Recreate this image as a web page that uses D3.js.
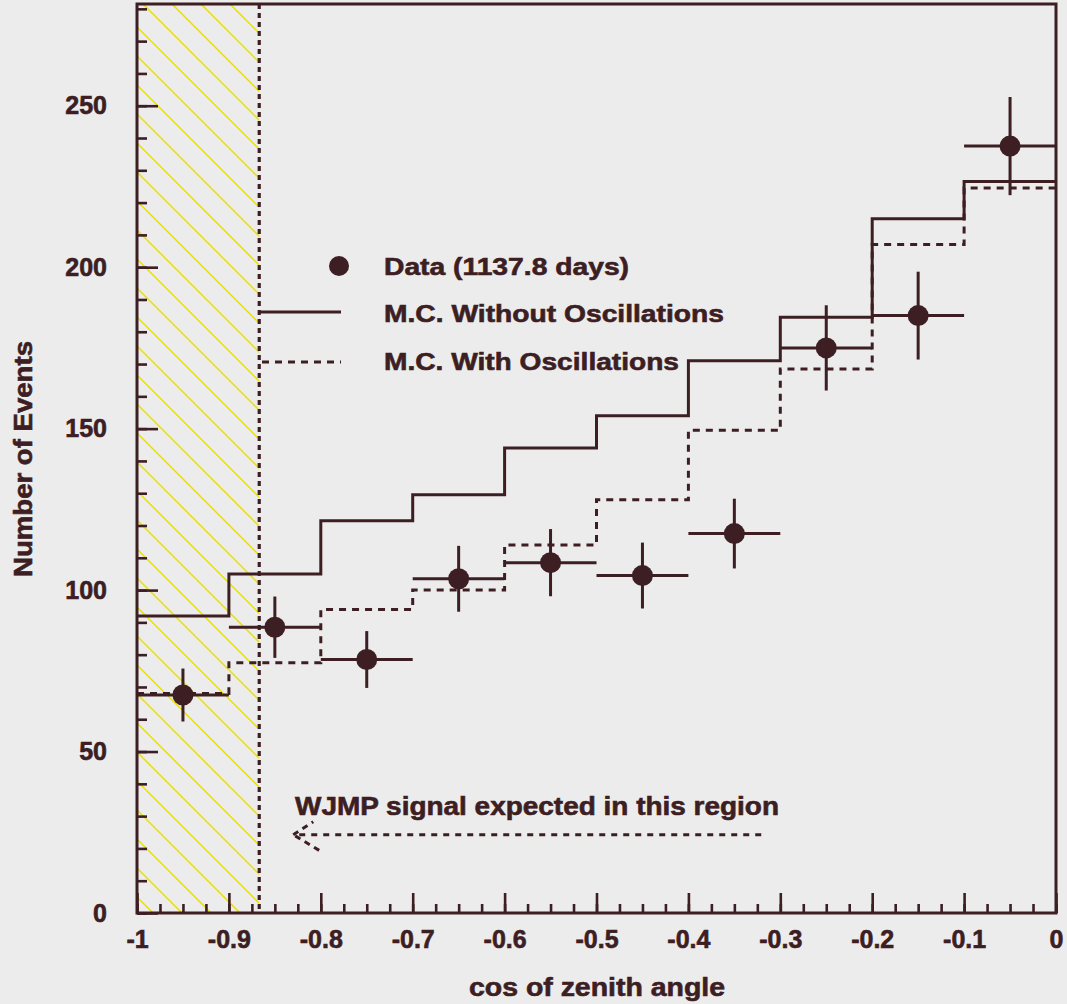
<!DOCTYPE html>
<html>
<head>
<meta charset="utf-8">
<script src="https://cdn.jsdelivr.net/npm/d3@7"></script>
<style>
  body { margin: 0; background: #ececec; }
  svg { display: block; }
</style>
</head>
<body>
<svg id="chart" width="1067" height="1004"></svg>
<script>
// Upward-going muon zenith-angle distribution: data vs. Monte Carlo
const binEdges    = [-1, -0.9, -0.8, -0.7, -0.6, -0.5, -0.4, -0.3, -0.2, -0.1, 0];
const binCenters  = [-0.95, -0.85, -0.75, -0.65, -0.55, -0.45, -0.35, -0.25, -0.15, -0.05];
const mcNoOsc     = [92, 105, 121.5, 129.5, 144, 154, 171, 184.5, 215, 226.5];
const mcOsc       = [68, 77.5, 94, 100, 114, 128, 149.5, 168.5, 207, 224.5];
const dataCounts  = [67.5, 88.5, 78.5, 103.5, 108.5, 104.5, 117.5, 175, 185, 237.5];
const dataErrors  = [8.2, 9.5, 8.8, 10.2, 10.4, 10.2, 10.8, 13.2, 13.6, 15.2];

const xTickValues = [-1, -0.9, -0.8, -0.7, -0.6, -0.5, -0.4, -0.3, -0.2, -0.1, 0];
const xTickLabels = ["-1", "-0.9", "-0.8", "-0.7", "-0.6", "-0.5", "-0.4", "-0.3", "-0.2", "-0.1", "0"];
const yTickValues = [0, 50, 100, 150, 200, 250];
const yTickLabels = ["0", "50", "100", "150", "200", "250"];

const signalRegion  = [-1, -0.867];
const arrowSpan     = [-0.83, -0.32];
const arrowLevel    = 24.2;
const legendLabels  = ["Data (1137.8 days)", "M.C. Without Oscillations", "M.C. With Oscillations"];
const annotation    = "WJMP signal expected in this region";
const xTitle        = "cos of zenith angle";
const yTitle        = "Number of Events";

const ink = "#3c1e23";
const hatchColor = "#e8e000";
const font = "'Liberation Sans', Arial, Helvetica, sans-serif";

const svg = d3.select("#chart");
const plotLeft = 137, plotRight = 1056, plotTop = 4, plotBottom = 913;

const x = d3.scaleLinear().domain([-1, 0]).range([plotLeft, plotRight]);
const y = d3.scaleLinear().domain([0, 281.5]).range([plotBottom, plotTop]);

svg.append("rect").attr("width", 1067).attr("height", 1004).attr("fill", "#ececec");

// Hatched signal region
svg.append("defs").append("clipPath").attr("id", "regionClip")
  .append("rect")
  .attr("x", x(signalRegion[0])).attr("y", plotTop)
  .attr("width", x(signalRegion[1]) - x(signalRegion[0]))
  .attr("height", plotBottom - plotTop);

const hatch = svg.append("g").attr("clip-path", "url(#regionClip)");
const hatchStep = 29;
const hx0 = plotLeft - 20, hx1 = x(signalRegion[1]) + 20;
for (let c = -139 - hatchStep * 6; c < plotBottom; c += hatchStep) {
  // lines of slope +1 in screen space: y = x + c
  hatch.append("line")
    .attr("x1", hx0).attr("y1", hx0 + c)
    .attr("x2", hx1).attr("y2", hx1 + c)
    .attr("stroke", hatchColor).attr("stroke-width", 1.5);
}

svg.append("line")
  .attr("x1", x(signalRegion[1])).attr("x2", x(signalRegion[1]))
  .attr("y1", plotTop).attr("y2", plotBottom)
  .attr("stroke", ink).attr("stroke-width", 3.2)
  .attr("stroke-dasharray", "5,4");

// Axes: major and minor ticks pointing inward
function styleAxis(g) {
  g.select(".domain").remove();
  g.selectAll(".tick line").attr("stroke", ink).attr("stroke-width", 2.6);
  g.selectAll("text")
    .attr("fill", ink)
    .attr("stroke", ink).attr("stroke-width", 0.6)
    .style("font-family", font)
    .style("font-weight", "bold")
    .style("font-size", "25px");
}

const xMinor = d3.range(-1, 0.0001, 0.025).map(v => +v.toFixed(3));
svg.append("g").attr("transform", `translate(0,${plotBottom})`)
  .call(d3.axisBottom(x).tickValues(xMinor).tickSizeInner(-9).tickSizeOuter(0).tickFormat(""))
  .call(styleAxis);
svg.append("g").attr("transform", `translate(0,${plotBottom})`)
  .call(d3.axisBottom(x).tickValues(xTickValues).tickSizeInner(-20).tickSizeOuter(0)
    .tickPadding(17).tickFormat((d, i) => xTickLabels[i]))
  .call(styleAxis);

const yMinor = d3.range(0, 281, 10);
svg.append("g").attr("transform", `translate(${plotLeft},0)`)
  .call(d3.axisLeft(y).tickValues(yMinor).tickSizeInner(-10).tickSizeOuter(0).tickFormat(""))
  .call(styleAxis);
svg.append("g").attr("transform", `translate(${plotLeft},0)`)
  .call(d3.axisLeft(y).tickValues(yTickValues).tickSizeInner(-21).tickSizeOuter(0)
    .tickPadding(30).tickFormat((d, i) => yTickLabels[i]))
  .call(styleAxis);

// Frame
svg.append("rect")
  .attr("x", plotLeft).attr("y", plotTop)
  .attr("width", plotRight - plotLeft).attr("height", plotBottom - plotTop)
  .attr("fill", "none").attr("stroke", ink).attr("stroke-width", 3);

// Histograms
function stepPoints(values) {
  const pts = values.map((v, i) => [binEdges[i], v]);
  pts.push([binEdges[binEdges.length - 1], values[values.length - 1]]);
  return pts;
}
const stepLine = d3.line().x(d => x(d[0])).y(d => y(d[1])).curve(d3.curveStepAfter);

svg.append("path").attr("d", stepLine(stepPoints(mcOsc)))
  .attr("fill", "none").attr("stroke", ink).attr("stroke-width", 3)
  .attr("stroke-dasharray", "7,6");
svg.append("path").attr("d", stepLine(stepPoints(mcNoOsc)))
  .attr("fill", "none").attr("stroke", ink).attr("stroke-width", 3);

// Data points with error bars
const pts = svg.append("g");
dataCounts.forEach((v, i) => {
  pts.append("line")
    .attr("x1", x(binEdges[i])).attr("x2", x(binEdges[i + 1]))
    .attr("y1", y(v)).attr("y2", y(v))
    .attr("stroke", ink).attr("stroke-width", 3);
  pts.append("line")
    .attr("x1", x(binCenters[i])).attr("x2", x(binCenters[i]))
    .attr("y1", y(v - dataErrors[i])).attr("y2", y(v + dataErrors[i]))
    .attr("stroke", ink).attr("stroke-width", 3);
  pts.append("circle")
    .attr("cx", x(binCenters[i])).attr("cy", y(v)).attr("r", 10.5)
    .attr("fill", ink);
});

// Legend
const textStyle = sel => sel.attr("fill", ink)
  .attr("stroke", ink).attr("stroke-width", 0.6)
  .style("font-family", font).style("font-weight", "bold");

svg.append("circle").attr("cx", 339).attr("cy", 266).attr("r", 10).attr("fill", ink);
svg.append("line").attr("x1", 260).attr("x2", 341).attr("y1", 312).attr("y2", 312)
  .attr("stroke", ink).attr("stroke-width", 3);
svg.append("line").attr("x1", 262).attr("x2", 341).attr("y1", 362).attr("y2", 362)
  .attr("stroke", ink).attr("stroke-width", 3).attr("stroke-dasharray", "7,6");

const legendBaselines = [275, 322, 370];
const legendWidths = [245, 340, 295];
legendLabels.forEach((t, i) => {
  svg.append("text").text(t)
    .attr("x", 384).attr("y", legendBaselines[i])
    .attr("textLength", legendWidths[i]).attr("lengthAdjust", "spacingAndGlyphs")
    .style("font-size", "24px").call(textStyle);
});

// Annotation and dashed arrow
svg.append("text").text(annotation)
  .attr("x", 295).attr("y", 815)
  .attr("textLength", 484).attr("lengthAdjust", "spacingAndGlyphs")
  .style("font-size", "25px").call(textStyle);

const ax0 = x(arrowSpan[0]), ax1 = x(arrowSpan[1]), ay = y(arrowLevel);
svg.append("line").attr("x1", ax0 + 6).attr("x2", ax1).attr("y1", ay).attr("y2", ay)
  .attr("stroke", ink).attr("stroke-width", 3).attr("stroke-dasharray", "6,6");
svg.append("line").attr("x1", ax0).attr("y1", ay).attr("x2", ax0 + 20).attr("y2", ay - 13)
  .attr("stroke", ink).attr("stroke-width", 3).attr("stroke-dasharray", "6,5");
svg.append("line").attr("x1", ax0 + 2).attr("y1", ay + 1).attr("x2", ax0 + 30).attr("y2", ay + 18)
  .attr("stroke", ink).attr("stroke-width", 3).attr("stroke-dasharray", "6,5");

// Axis titles
svg.append("text").text(xTitle)
  .attr("x", 597).attr("y", 996).attr("text-anchor", "middle")
  .attr("textLength", 256).attr("lengthAdjust", "spacingAndGlyphs")
  .style("font-size", "25px").call(textStyle);

svg.append("text").text(yTitle)
  .attr("transform", "translate(32,459) rotate(-90)")
  .attr("text-anchor", "middle")
  .attr("textLength", 236).attr("lengthAdjust", "spacingAndGlyphs")
  .style("font-size", "25px").call(textStyle);
</script>
</body>
</html>
